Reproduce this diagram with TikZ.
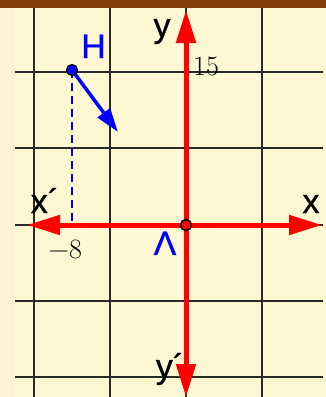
\documentclass[tikz,border=0pt]{standalone}
\usepackage{fontspec}
\newfontfamily\labsf[FakeBold=0.8]{Liberation Sans}
\usetikzlibrary{arrows.meta}
\definecolor{bgyel}{HTML}{FFF8D2}
\definecolor{bgleft}{HTML}{FFF0D8}
\definecolor{topbar}{HTML}{843C0C}
\definecolor{gridc}{HTML}{2A2A2A}
\tikzset{
  gridline/.style={draw=gridc, line width=1.8pt},
  axisline/.style={draw=red, line width=5pt, -{Triangle[length=33pt,width=19pt]}},
  vecline/.style={draw=blue, line width=3.5pt, -{Triangle[length=24pt,width=15pt]}},
  sflab/.style={font=\labsf\fontsize{34}{34}\selectfont, anchor=base, inner sep=0pt},
  numlab/.style={font=\rmfamily\fontsize{28}{28}\selectfont, anchor=base, inner sep=0pt},
}
\begin{document}
\begin{tikzpicture}[x=1pt,y=-1pt]
\useasboundingbox (0,0) rectangle (326,397);
\fill[bgyel] (0,0) rectangle (326,397);
\fill[bgleft] (0,0) rectangle (15,397);
% grid
\foreach \gx in {34,110,186,262} \draw[gridline] (\gx,8) -- (\gx,397);
\foreach \gy in {72,148,225,301,377} \draw[gridline] (15,\gy) -- (323,\gy);
\fill[topbar] (0,0) rectangle (326,8);
% coordinates
\coordinate (O) at (186,225);
\coordinate (xr) at (322,225);
\coordinate (xl) at (27,225);
\coordinate (yt) at (186,10);
\coordinate (yb) at (186,397);
\coordinate (Hp) at (72,70);
\coordinate (Hv) at (118,132);
\coordinate (Hf) at (72,225);
% dashed projection
\draw[blue, line width=1.5pt, dash pattern=on 8pt off 5pt] (Hp) -- (Hf);
% axes
\draw[axisline] (O) -- (xr);
\draw[axisline] (O) -- (xl);
\draw[axisline] (O) -- (yt);
\draw[axisline] (O) -- (yb);
\node[circle, draw=black, fill=red, line width=1.5pt, minimum size=11pt, inner sep=0pt] (orig) at (O) {};
% vector
\draw[vecline] (Hp) -- (Hv);
\node[circle, draw=black, fill=blue, line width=1.2pt, minimum size=11pt, inner sep=0pt] (hpt) at (Hp) {};
% labels
\node[sflab] (lx) at (311,213) {x};
\node[sflab] (lxp) at (45,213) {x´};
\node[sflab] (ly) at (162,37) {y};
\node[sflab] (lyp) at (170,378) {y´};
\node[sflab, text=blue] (lH) at (93.5,58) {H};
\node[sflab, text=blue] (lL) at (165,255) {Λ};
\node[numlab] (l15) at (206,75) {15};
\node[numlab] (lm8) at (65.5,258) {−8};
\end{tikzpicture}
\end{document}
